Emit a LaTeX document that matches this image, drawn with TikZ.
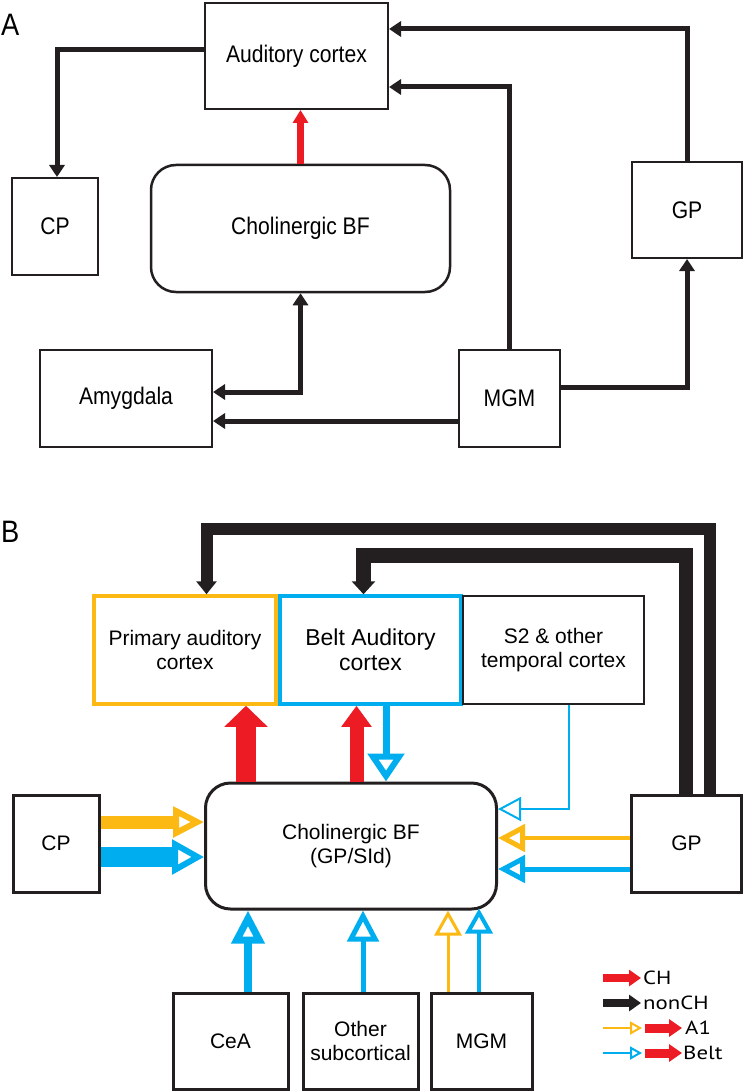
\documentclass[tikz,border=0pt]{standalone}
\usepackage{fontspec}
\setmainfont{Liberation Sans}
\newfontfamily\condfont[FakeStretch=0.88]{Liberation Sans}
\newfontfamily\legfont[FakeStretch=1.2]{PT Sans}
\usetikzlibrary{arrows.meta}
\definecolor{orng}{HTML}{FDB913}
\definecolor{cyn}{HTML}{00AEEF}
\definecolor{rd}{HTML}{ED1C24}
\definecolor{blk}{HTML}{231F20}
\tikzset{
  bx/.style={draw=blk, fill=white, rectangle, inner sep=0pt, align=center, font=\fontsize{21}{24.5}\selectfont},
  bxA/.style={bx, line width=2pt, font=\condfont\fontsize{24}{28}\selectfont},
  bxB/.style={bx, line width=3pt},
  rbx/.style={bx, line width=2.5pt, rounded corners=25pt},
  lbl/.style={font=\condfont\fontsize{31}{31}\selectfont, inner sep=0pt, anchor=west},
  ablk/.style={draw=blk, line width=5pt, -{Triangle[length=12pt,width=15pt]}},
  ablkdbl/.style={draw=blk, line width=5pt, {Triangle[length=12pt,width=15pt]}-{Triangle[length=12pt,width=15pt]}},
  ared/.style={draw=rd, line width=7pt, -{Triangle[length=13pt,width=15pt]}},
  bkone/.style={draw=blk, line width=12pt, -{Triangle[length=13pt,width=20pt]}},
  bktwo/.style={draw=blk, line width=14.5pt, -{Triangle[length=13pt,width=23pt]}},
  rdbig/.style 2 args={draw=rd, line width=#1, -{Triangle[length=21pt,width=#2]}},
  oarr/.style n args={4}{line width=#1, -{Triangle[open,length=#2,width=#3,line width=#4]}},
  legtxt/.style={font=\legfont\fontsize{19}{19}\selectfont, inner sep=0pt, anchor=west},
}
\begin{document}
\begin{tikzpicture}[x=1pt,y=-1pt]
\useasboundingbox (0,0) rectangle (744,1091);
\fill[white] (0,0) rectangle (744,1091);

% ---------------- Panel A ----------------
\node[lbl] (la) at (1,25) {A};
\node[bxA, minimum width=183pt, minimum height=106pt] (ac) at (296.5,56) {Auditory cortex};
\node[bxA, minimum width=86pt, minimum height=97pt] (cp) at (55,226.5) {CP};
\node[rbx, font=\condfont\fontsize{24}{28}\selectfont, minimum width=299pt, minimum height=127pt] (bf) at (300.5,228.5) {Cholinergic BF};
\node[bxA, minimum width=110pt, minimum height=96pt] (gp) at (687,210) {GP};
\node[bxA, minimum width=172pt, minimum height=97pt] (amy) at (126,398.5) {Amygdala};
\node[bxA, minimum width=101pt, minimum height=97pt] (mgm) at (509.5,398.5) {MGM};

\draw[ablk] ([yshift=6pt]ac.west) -| ([xshift=2pt]cp.north);
\draw[ablk] (gp.north) |- ([yshift=27pt]ac.east);
\draw[ablk] (mgm.north) |- ([yshift=-31pt]ac.east);
\coordinate (bfn) at (bf.north);
\draw[ared] (bfn) -- (bfn |- ac.south);
\draw[ablk] ([yshift=11.5pt]mgm.east) -| (gp.south);
\draw[ablkdbl] (bf.south) |- ([yshift=6.5pt]amy.east);
\draw[ablk] ([yshift=-22.5pt]mgm.west) -- ([yshift=-22.5pt]amy.east);

% ---------------- Panel B ----------------
\node[lbl] (lb) at (1,532) {B};
\node[bxB, draw=orng, line width=3.5pt, minimum width=182pt, minimum height=108pt] (pa) at (185,650) {Primary auditory\\cortex};
\node[bxB, draw=cyn, line width=3.5pt, minimum width=181pt, minimum height=108pt, font=\fontsize{23}{25}\selectfont] (belt) at (370.5,650) {Belt Auditory\\cortex};
\node[bxB, line width=2.5pt, minimum width=181pt, minimum height=108pt] (s2) at (553.5,650) {S2 \& other\\temporal cortex};
\node[rbx, line width=3pt, minimum width=291pt, minimum height=126pt] (bfb) at (351,846) {Cholinergic BF\\(GP/SId)};
\node[bxB, minimum width=86pt, minimum height=97pt] (cpb) at (56,843.5) {CP};
\node[bxB, minimum width=110pt, minimum height=97pt] (gpb) at (686.5,843.5) {GP};
\node[bxB, minimum width=115pt, minimum height=96pt] (cea) at (230.5,1041) {CeA};
\node[bxB, minimum width=115pt, minimum height=96pt] (oth) at (360.5,1041) {Other\\subcortical};
\node[bxB, minimum width=101pt, minimum height=96pt] (mgmb) at (481.5,1041) {MGM};

% black nonCH projections from GP
\draw[bkone] ([xshift=23pt]gpb.north) -- ++(0,-265) -| ([xshift=21.5pt]pa.north);
\draw[bktwo] ([xshift=-0.5pt]gpb.north) -- ++(0,-238) -| ([xshift=-7pt]belt.north);

% red CH projections
\coordinate (r1) at ([xshift=61pt]pa.south);
\draw[rdbig={20pt}{42pt}] (r1 |- bfb.north) -- (r1);
\coordinate (r2) at ([xshift=-14pt]belt.south);
\draw[rdbig={14pt}{29pt}] (r2 |- bfb.north) -- (r2);

% blue from belt
\coordinate (b1) at ([xshift=15.5pt]belt.south);
\draw[oarr={7pt}{28pt}{36pt}{6pt}, draw=cyn] (b1) -- (b1 |- bfb.north);
% thin blue from S2
\draw[oarr={2pt}{23pt}{24pt}{2pt}, draw=cyn] ([xshift=15.5pt]s2.south) |- ([yshift=37pt]bfb.east);

% CP inputs
\draw[oarr={13pt}{31pt}{30pt}{6pt}, draw=orng] ([yshift=21.5pt]cpb.east) -- ([yshift=24pt]bfb.west);
\draw[oarr={20pt}{32pt}{34pt}{6pt}, draw=cyn] ([yshift=-13.5pt]cpb.east) -- ([yshift=-11pt]bfb.west);

% GP inputs
\draw[oarr={4.5pt}{27pt}{27pt}{5pt}, draw=orng] ([yshift=5.5pt]gpb.west) -- ([yshift=8pt]bfb.east);
\draw[oarr={5pt}{27pt}{27pt}{5pt}, draw=cyn] ([yshift=-25.5pt]gpb.west) -- ([yshift=-23pt]bfb.east);

% bottom inputs
\coordinate (c1) at ([xshift=17.5pt]cea.north);
\draw[oarr={8pt}{33pt}{32pt}{7pt}, draw=cyn] (c1) -- (c1 |- bfb.south);
\coordinate (c2) at ([xshift=2.5pt]oth.north);
\draw[oarr={5pt}{31pt}{31pt}{5pt}, draw=cyn] (c2) -- (c2 |- bfb.south);
\coordinate (c3) at ([xshift=-33.5pt]mgmb.north);
\draw[oarr={3pt}{25pt}{27pt}{3pt}, draw=orng] (c3) -- (c3 |- bfb.south);
\coordinate (c4) at ([xshift=-2.5pt]mgmb.north);
\draw[oarr={4pt}{25pt}{27pt}{4pt}, draw=cyn] (c4) -- ([yshift=2pt]c4 |- bfb.south);

% ---------------- Legend ----------------
\node[legtxt] (lch) at (643,978) {CH};
\node[legtxt] (lnon) at (643,1003) {nonCH};
\node[legtxt] (la1) at (685,1028) {A1};
\node[legtxt] (lbelt) at (683,1053) {Belt};
\coordinate (k1) at (603,978);
\coordinate (k2) at (603,1003);
\coordinate (k3) at (603,1028);
\coordinate (k3m) at (642,1028);
\coordinate (k3r) at (645,1028);
\coordinate (k4) at (603,1053);
\coordinate (k4m) at (642,1053);
\coordinate (k4r) at (645,1053);
\draw[draw=rd, line width=8pt, -{Triangle[length=12pt,width=16pt]}] (k1) -- ([xshift=-2pt]lch.west);
\draw[draw=blk, line width=8pt, -{Triangle[length=12pt,width=16pt]}] (k2) -- ([xshift=-2pt]lnon.west);
\draw[oarr={2pt}{12pt}{13pt}{2pt}, draw=orng] (k3) -- (k3m);
\draw[draw=rd, line width=9pt, -{Triangle[length=13pt,width=17pt]}] (k3r) -- ([xshift=-3pt]la1.west);
\draw[oarr={2pt}{12pt}{13pt}{2pt}, draw=cyn] (k4) -- (k4m);
\draw[draw=rd, line width=9pt, -{Triangle[length=13pt,width=17pt]}] (k4r) -- ([xshift=-1pt]lbelt.west);
\end{tikzpicture}
\end{document}
